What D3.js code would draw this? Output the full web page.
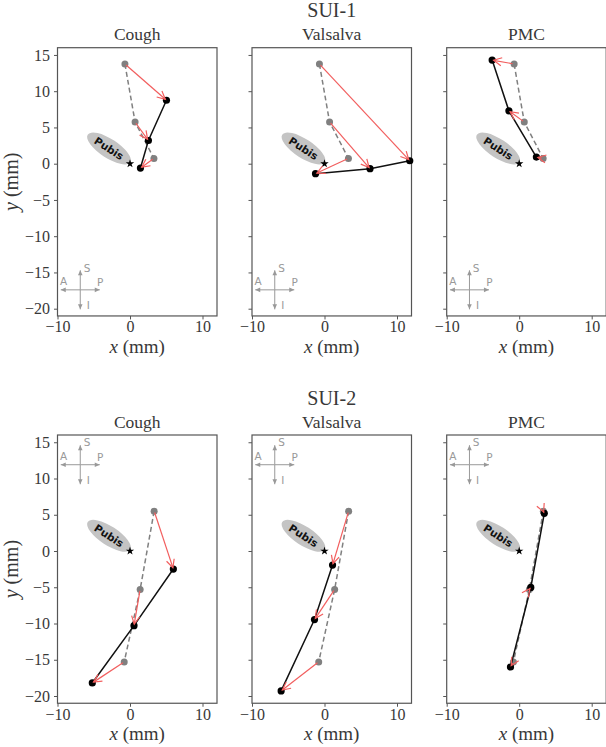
<!DOCTYPE html>
<html>
<head>
<meta charset="utf-8">
<script src="https://cdn.jsdelivr.net/npm/d3@7"></script>
<style>
  body { margin: 0; background: #fff; }
  svg { display: block; }
  svg text { font-family: "Liberation Serif", "Times New Roman", serif; }
</style>
</head>
<body>
<script>
// rows (subjects) and columns (manoeuvres)
var subjects = ['SUI-1', 'SUI-2'];
var manoeuvres = ['Cough', 'Valsalva', 'PMC'];

// rest positions (gray, dashed) for each subject, [x, y] in mm
var restSUI1 = [[-0.7, 13.75], [0.7, 5.75], [3.3, 0.73]];
var restSUI2 = [[3.33, 5.5], [1.4, -5.3], [-0.8, -15.3]];

// positions during each manoeuvre (black, solid)
var coughSUI1 = [[5.03, 8.75], [2.54, 3.2], [1.44, -0.6]];
var valsalvaSUI1 = [[11.76, 0.41], [6.28, -0.69], [-1.24, -1.38]];
var pmcSUI1 = [[-3.73, 14.3], [-1.42, 7.29], [2.37, 0.91]];

var coughSUI2 = [[5.98, -2.49], [0.55, -10.3], [-5.2, -18.2]];
var valsalvaSUI2 = [[1.11, -1.94], [-1.38, -9.46], [-5.98, -19.3]];
var pmcSUI2 = [[3.46, 5.2], [1.6, -5.03], [-1.2, -16.0]];

var xTicks = [-10, 0, 10];
var yTicks = [-20, -15, -10, -5, 0, 5, 10, 15];

var rest = [restSUI1, restSUI2];
var moved = [
  [coughSUI1, valsalvaSUI1, pmcSUI1],
  [coughSUI2, valsalvaSUI2, pmcSUI2]
];

// pubis annotation (data units)
var pubis = {cx: -2.9, cy: 2.1, rx: 3.5, ry: 1.3, angle: 33};
// compass position per row (data units)
var compassAt = [[-6.86, -17.4], [-6.86, 11.9]];

var k = 7.25;
var pw = 22 * k;
var ph = 37 * k;
var lefts = [57.5, 252, 446.7];
var tops = [47.7, 435];

var serif = '"Liberation Serif", "Times New Roman", serif';
var sans = '"DejaVu Sans", sans-serif';
var textColor = '#383838';
var frameColor = '#555';
var red = '#f25e5e';

var svg = d3.select('body').append('svg')
    .attr('width', 606)
    .attr('height', 747);

function arrow(g, x1, y1, x2, y2, opts) {
  var dx = x2 - x1, dy = y2 - y1;
  var len = Math.sqrt(dx * dx + dy * dy);
  var ux = dx / len, uy = dy / len;
  var sa = opts.shrinkA || 0, sb = opts.shrinkB || 0;
  var ax = x1 + ux * sa, ay = y1 + uy * sa;
  var bx = x2 - ux * sb, by = y2 - uy * sb;
  var hl = opts.headLength, hw = opts.headWidth;
  var px = -uy, py = ux;
  g.append('line')
      .attr('x1', ax).attr('y1', ay)
      .attr('x2', bx).attr('y2', by)
      .attr('stroke', opts.color)
      .attr('stroke-width', opts.width);
  var l = [bx - ux * hl + px * hw, by - uy * hl + py * hw];
  var r = [bx - ux * hl - px * hw, by - uy * hl - py * hw];
  if (opts.filled) {
    g.append('path')
        .attr('d', 'M' + bx + ',' + by + 'L' + l[0] + ',' + l[1] + 'L' + r[0] + ',' + r[1] + 'Z')
        .attr('fill', opts.color);
  } else {
    g.append('path')
        .attr('d', 'M' + l[0] + ',' + l[1] + 'L' + bx + ',' + by + 'L' + r[0] + ',' + r[1])
        .attr('fill', 'none')
        .attr('stroke', opts.color)
        .attr('stroke-width', opts.width);
  }
}

function drawPanel(r, c) {
  var g = svg.append('g')
      .attr('transform', 'translate(' + lefts[c] + ',' + tops[r] + ')');

  var x = d3.scaleLinear().domain([-10, 12]).range([0, pw]);
  var y = d3.scaleLinear().domain([-21, 16]).range([ph, 0]);

  // axes
  var xAxis = g.append('g')
      .attr('transform', 'translate(0,' + ph + ')')
      .call(d3.axisBottom(x).tickValues(xTicks).tickSize(3.5).tickPadding(1.5));
  var yAxis = g.append('g')
      .call(d3.axisLeft(y).tickValues(yTicks).tickSize(3.5).tickPadding(4)
        .tickFormat(c === 0 ? d3.format('d') : ''));

  [xAxis, yAxis].forEach(function(a) {
    a.attr('font-family', serif).attr('font-size', 16);
    a.select('.domain').remove();
    a.selectAll('line').attr('stroke', frameColor);
    a.selectAll('text')
        .attr('font-family', serif)
        .attr('fill', textColor);
  });

  g.append('rect')
      .attr('width', pw)
      .attr('height', ph)
      .attr('fill', 'none')
      .attr('stroke', frameColor)
      .attr('stroke-width', 1.2);

  // pubis
  var pub = g.append('g')
      .attr('transform', 'translate(' + x(pubis.cx) + ',' + y(pubis.cy) + ') rotate(' + pubis.angle + ')');
  pub.append('ellipse')
      .attr('rx', pubis.rx * k)
      .attr('ry', pubis.ry * k)
      .attr('fill', '#c4c4c4');
  pub.append('text')
      .attr('text-anchor', 'middle')
      .attr('dy', '0.35em')
      .attr('font-family', sans)
      .style('font-family', sans)
      .style('font-weight', 'bold')
      .style('font-size', '10.5px')
      .attr('fill', '#111')
      .text('Pubis');
  g.append('path')
      .attr('transform', 'translate(' + x(0) + ',' + y(0) + ')')
      .attr('d', d3.symbol(d3.symbolStar, 22)())
      .attr('fill', '#000');

  // compass
  var cx = x(compassAt[r][0]), cy = y(compassAt[r][1]);
  var cg = g.append('g');
  var hlen = 19.5;
  var cOpts = {color: '#999', width: 1, headLength: 5, headWidth: 2.3, filled: true};
  arrow(cg, cx, cy, cx - hlen, cy, cOpts);
  arrow(cg, cx, cy, cx + hlen, cy, cOpts);
  arrow(cg, cx, cy, cx, cy - hlen, cOpts);
  arrow(cg, cx, cy, cx, cy + hlen, cOpts);
  var labels = [['S', 6.7, -22], ['A', -16.7, -8.6], ['P', 20, -7.3], ['I', 8, 15.7]];
  cg.selectAll('text.dir')
      .data(labels)
    .enter().append('text')
      .attr('class', 'dir')
      .attr('x', function(d) { return cx + d[1]; })
      .attr('y', function(d) { return cy + d[2]; })
      .attr('dy', '0.35em')
      .attr('text-anchor', 'middle')
      .style('font-family', sans)
      .style('font-size', '10.5px')
      .attr('fill', '#999')
      .text(function(d) { return d[0]; });

  var line = d3.line()
      .x(function(d) { return x(d[0]); })
      .y(function(d) { return y(d[1]); });

  var start = rest[r];
  var end = moved[r][c];

  g.append('path')
      .attr('d', line(start))
      .attr('fill', 'none')
      .attr('stroke', '#808080')
      .attr('stroke-width', 1.5)
      .attr('stroke-dasharray', '5,3');
  g.selectAll('circle.rest')
      .data(start)
    .enter().append('circle')
      .attr('class', 'rest')
      .attr('cx', function(d) { return x(d[0]); })
      .attr('cy', function(d) { return y(d[1]); })
      .attr('r', 3.5)
      .attr('fill', '#808080');

  g.append('path')
      .attr('d', line(end))
      .attr('fill', 'none')
      .attr('stroke', '#111')
      .attr('stroke-width', 1.5);
  g.selectAll('circle.moved')
      .data(end)
    .enter().append('circle')
      .attr('class', 'moved')
      .attr('cx', function(d) { return x(d[0]); })
      .attr('cy', function(d) { return y(d[1]); })
      .attr('r', 3.6)
      .attr('fill', '#000');

  start.forEach(function(s, i) {
    arrow(g, x(s[0]), y(s[1]), x(end[i][0]), y(end[i][1]),
      {color: red, width: 1.2, headLength: 8, headWidth: 4, shrinkA: 1.5, shrinkB: 1.5});
  });

  // titles
  g.append('text')
      .attr('x', pw / 2)
      .attr('y', -7.5)
      .attr('text-anchor', 'middle')
      .style('font-size', '17.5px')
      .attr('fill', textColor)
      .text(manoeuvres[c]);

  var xl = g.append('text')
      .attr('x', pw / 2)
      .attr('y', ph + 37.2)
      .attr('text-anchor', 'middle')
      .style('font-size', '19px')
      .attr('fill', textColor);
  xl.append('tspan').style('font-style', 'italic').text('x');
  xl.append('tspan').text(' (mm)');

  if (c === 0) {
    var yl = g.append('text')
        .attr('transform', 'translate(' + (18 - lefts[0]) + ',' + (ph / 2) + ') rotate(-90)')
        .attr('text-anchor', 'middle')
        .style('font-size', '20px')
        .attr('fill', textColor);
    yl.append('tspan').style('font-style', 'italic').text('y');
    yl.append('tspan').text(' (mm)');
  }
  if (c === 1) {
    g.append('text')
        .attr('x', pw / 2)
        .attr('y', -30.5)
        .attr('text-anchor', 'middle')
        .style('font-size', '20px')
        .attr('fill', textColor)
        .text(subjects[r]);
  }
}

subjects.forEach(function(s, r) {
  manoeuvres.forEach(function(m, c) {
    drawPanel(r, c);
  });
});
</script>
</body>
</html>
